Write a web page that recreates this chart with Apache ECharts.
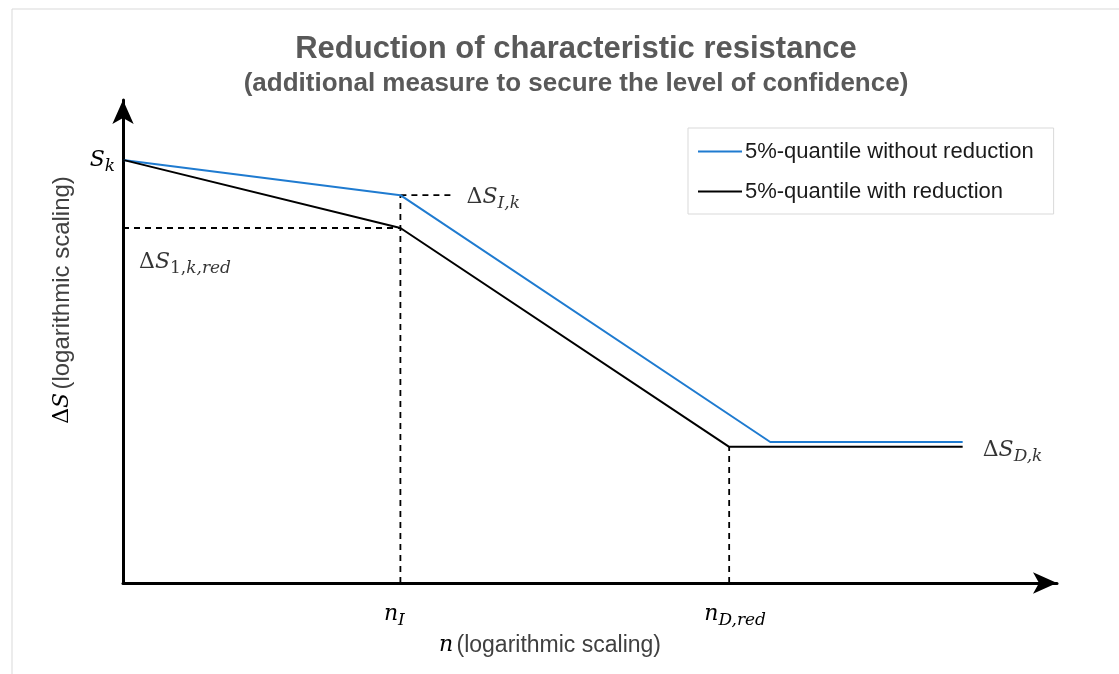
<!DOCTYPE html>
<html><head><meta charset="utf-8">
<script src="https://cdn.jsdelivr.net/npm/echarts@6/dist/echarts.min.js"></script>
<style>html,body{margin:0;padding:0;background:#fff}#c{width:1119px;height:674px}</style>
</head><body><div id="c"></div>
<script>
// Schematic S-N curve, axes in log units (0..100 arbitrary)
const seriesNames = ['5%-quantile without reduction', '5%-quantile with reduction'];
const blueX = [0, 29.7, 69.3, 89.9];
const blueY = [87.6, 80.3, 29.2, 29.2];
const blackX = [0, 29.7, 64.9, 89.9];
const blackY = [87.6, 73.5, 28.2, 28.2];
const xTickValues = [29.7, 64.9];
const xTickLabels = ['{m|n}{s|I}{p|}', '{p|}{m|n}{s|D,red}'];
const yTickValues = [87.6];
const yTickLabels = ['{m|S}{s|k}'];
const stubEndX = 35.5;   // end of dashed stub at ΔS_I,k
const annotationNames = ['ΔS_I,k', 'ΔS_1,k,red', 'ΔS_D,k'];

const serif = 'DejaVu Serif';
const sans = 'Liberation Sans';
const rich = {
  m: {fontFamily: serif, fontStyle: 'italic', fontSize: 22, color: '#000'},
  d: {fontFamily: serif, fontStyle: 'normal', fontSize: 22, color: '#000'},
  s: {fontFamily: serif, fontStyle: 'italic', fontSize: 17, color: '#000', padding: [13, 0, 0, 0]},
  n: {fontFamily: serif, fontStyle: 'normal', fontSize: 17, color: '#000', padding: [13, 0, 0, 0]},
  p: {width: 12},
  t: {fontFamily: sans, fontSize: 23, color: '#404040'},
  ty: {fontFamily: sans, fontSize: 24, color: '#404040'}
};

const pts = (xs, ys) => xs.map((x, i) => [x, ys[i]]);
const dash = {color: '#000', width: 1.8, type: [6, 5]};
const dashedSets = [
  [[blackX[0], blackY[1]], [blackX[1], blackY[1]]],       // ΔS_1,k,red level
  [[blueX[1], 0], [blueX[1], blueY[1]]],                  // n_I vertical
  [[blueX[1], blueY[1]], [stubEndX, blueY[1]]],           // ΔS_I,k stub
  [[blackX[2], 0], [blackX[2], blackY[2]]]                // n_D,red vertical
];
const annot = [
  {value: [stubEndX, blueY[1]], text: '{d|Δ}{m|S}{s|I,k}', pos: 'right', off: [7, 2]},
  {value: [blackX[0], blackY[1]], text: '{d|Δ}{m|S}{n|1,}{s|k,red}', pos: 'insideTopLeft', off: [11, 14]},
  {value: [blueX[3], blueY[3]], text: '{d|Δ}{m|S}{s|D,k}', pos: 'right', off: [15, 8]}
];

const chart = echarts.init(document.getElementById('c'));
chart.setOption({
  animation: false,
  title: {
    text: 'Reduction of characteristic resistance',
    subtext: '(additional measure to secure the level of confidence)',
    left: 571, top: 29, textAlign: 'center', itemGap: 6,
    textStyle: {fontFamily: sans, fontWeight: 'bold', fontSize: 31, color: '#595959'},
    subtextStyle: {fontFamily: sans, fontWeight: 'bold', fontSize: 26, color: '#595959'}
  },
  graphic: [{type: 'rect', left: 9.5, top: 6.5, shape: {width: 1200, height: 1000},
    style: {fill: 'none', stroke: '#d9d9d9', lineWidth: 1}, silent: true, z: -1}],
  legend: {
    data: seriesNames, orient: 'vertical', left: 688, top: 128, icon: 'rect',
    backgroundColor: '#fff', borderColor: '#d9d9d9', borderWidth: 1,
    padding: [11, 20, 10, 10], itemWidth: 44, itemHeight: 2, itemGap: 15,
    textStyle: {fontFamily: sans, fontSize: 22, color: '#1a1a1a', lineHeight: 25, padding: [0, 0, 0, -2]}
  },
  grid: {left: 123, right: 62, top: 100, bottom: 91},
  xAxis: {
    type: 'value', min: 0, max: 100, splitLine: {show: false}, axisTick: {show: false},
    axisLine: {lineStyle: {color: '#000', width: 3}, symbol: ['none', 'arrow'], symbolSize: [16, 24]},
    axisLabel: {customValues: xTickValues, margin: 16, rich,
      formatter: v => xTickLabels[xTickValues.indexOf(v)] || ''},
    name: '{m|n} {t|(logarithmic scaling)}', nameLocation: 'middle', nameGap: 44,
    nameTextStyle: {rich, padding: [0, 80, 0, 0]}
  },
  yAxis: {
    type: 'value', min: 0, max: 100, splitLine: {show: false}, axisTick: {show: false},
    axisLine: {lineStyle: {color: '#000', width: 3}, symbol: ['none', 'arrow'], symbolSize: [16, 24]},
    axisLabel: {customValues: yTickValues, margin: 8, rich,
      formatter: v => yTickLabels[yTickValues.indexOf(v)] || ''},
    name: '{d|Δ}{m|S} {ty|(logarithmic scaling)}', nameLocation: 'middle', nameGap: 49, nameRotate: 90,
    nameTextStyle: {rich, padding: [0, 0, 0, 83]}
  },
  series: [
    {name: seriesNames[0], type: 'line', symbol: 'none', data: pts(blueX, blueY),
      lineStyle: {color: '#1f7bd0', width: 2}, itemStyle: {color: '#1f7bd0'}, z: 4},
    {name: seriesNames[1], type: 'line', symbol: 'none', data: pts(blackX, blackY),
      lineStyle: {color: '#000', width: 2}, itemStyle: {color: '#000'}, z: 5},
    ...dashedSets.map(d => ({type: 'line', symbol: 'none', data: d, lineStyle: dash, silent: true, z: 3})),
    {type: 'scatter', symbolSize: 0, silent: true, z: 6,
      data: annot.map((a, i) => ({name: annotationNames[i], value: a.value,
        label: {show: true, position: a.pos, offset: a.off, formatter: a.text, rich}}))}
  ]
});
</script></body></html>
